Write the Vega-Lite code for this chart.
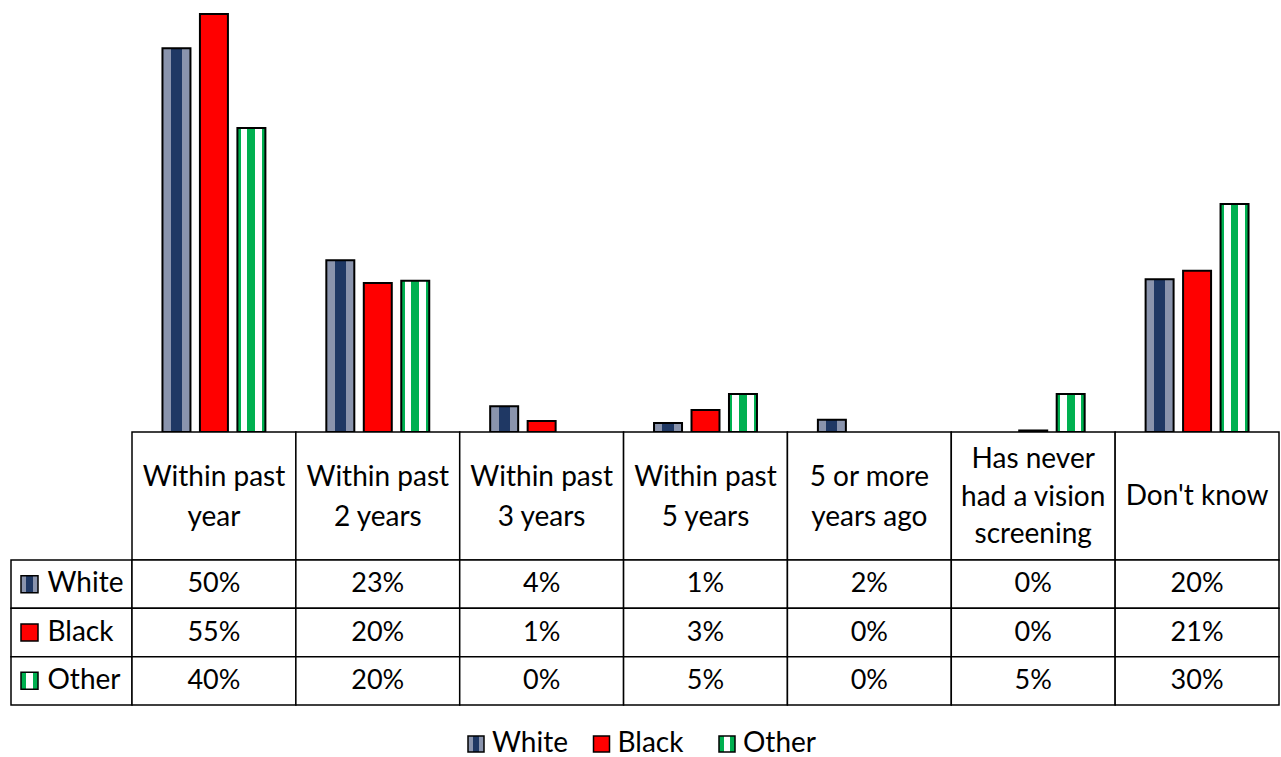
{
  "$schema": "https://vega.github.io/schema/vega-lite/v6.json",
  "padding": {"left": 10, "top": 0, "right": 3, "bottom": 0},
  "background": "white",
  "config": {"view": {"stroke": null}, "font": "Lato"},
  "datasets": {
    "bars": [
      {"cat": "Within past year", "race": "White", "value": 50.5, "label": "50%"},
      {"cat": "Within past year", "race": "Black", "value": 55, "label": "55%"},
      {"cat": "Within past year", "race": "Other", "value": 40, "label": "40%"},
      {"cat": "Within past 2 years", "race": "White", "value": 22.6, "label": "23%"},
      {"cat": "Within past 2 years", "race": "Black", "value": 19.6, "label": "20%"},
      {"cat": "Within past 2 years", "race": "Other", "value": 19.9, "label": "20%"},
      {"cat": "Within past 3 years", "race": "White", "value": 3.4, "label": "4%"},
      {"cat": "Within past 3 years", "race": "Black", "value": 1.45, "label": "1%"},
      {"cat": "Within past 3 years", "race": "Other", "value": 0, "label": "0%"},
      {"cat": "Within past 5 years", "race": "White", "value": 1.2, "label": "1%"},
      {"cat": "Within past 5 years", "race": "Black", "value": 2.9, "label": "3%"},
      {"cat": "Within past 5 years", "race": "Other", "value": 5.0, "label": "5%"},
      {"cat": "5 or more years ago", "race": "White", "value": 1.6, "label": "2%"},
      {"cat": "5 or more years ago", "race": "Black", "value": 0, "label": "0%"},
      {"cat": "5 or more years ago", "race": "Other", "value": 0, "label": "0%"},
      {"cat": "Has never had a vision screening", "race": "White", "value": 0, "label": "0%"},
      {"cat": "Has never had a vision screening", "race": "Black", "value": 0.2, "label": "0%"},
      {"cat": "Has never had a vision screening", "race": "Other", "value": 5.0, "label": "5%"},
      {"cat": "Don't know", "race": "White", "value": 20.1, "label": "20%"},
      {"cat": "Don't know", "race": "Black", "value": 21.2, "label": "21%"},
      {"cat": "Don't know", "race": "Other", "value": 30.0, "label": "30%"}
    ],
    "cats": [
      {"cat": "Within past year", "head": "Within past\nyear"},
      {"cat": "Within past 2 years", "head": "Within past\n2 years"},
      {"cat": "Within past 3 years", "head": "Within past\n3 years"},
      {"cat": "Within past 5 years", "head": "Within past\n5 years"},
      {"cat": "5 or more years ago", "head": "5 or more\nyears ago"},
      {"cat": "Has never had a vision screening", "head": "Has never\nhad a vision\nscreening"},
      {"cat": "Don't know", "head": "Don't know"}
    ],
    "races": [
      {"race": "White"},
      {"race": "Black"},
      {"race": "Other"}
    ]
  },
  "columns": 2,
  "spacing": 0,
  "align": "each",
  "bounds": "flush",
  "resolve": {"scale": {"x": "independent", "y": "independent"}},
  "concat": [
    {
      "width": 121, "height": 432,
      "data": {"values": []},
      "mark": "point"
    },
    {
      "width": 1147, "height": 432,
      "data": {"name": "bars"},
      "transform": [{"filter": "datum.value > 0"}],
      "mark": {"type": "bar", "stroke": "black", "strokeWidth": 2},
      "encoding": {
        "x": {"field": "cat", "type": "nominal", "axis": null,
              "scale": {"domain": ["Within past year", "Within past 2 years", "Within past 3 years", "Within past 5 years", "5 or more years ago", "Has never had a vision screening", "Don't know"], "paddingInner": 0, "paddingOuter": 0}},
        "xOffset": {"field": "race", "type": "nominal",
                    "scale": {"domain": ["White", "Black", "Other"], "paddingInner": 0.253, "paddingOuter": 0.813}},
        "y": {"field": "value", "type": "quantitative", "axis": null,
              "scale": {"domain": [0, 56.84], "nice": false, "zero": true}},
        "fill": {
          "condition": [
            {"test": "datum.race === 'White'", "value": {"gradient": "linear", "x1": 0, "y1": 0, "x2": 1, "y2": 0, "stops": [
                {"offset": 0, "color": "#8a94ad"}, {"offset": 0.3, "color": "#8a94ad"},
                {"offset": 0.3, "color": "#1f3864"}, {"offset": 0.7, "color": "#1f3864"},
                {"offset": 0.7, "color": "#8a94ad"}, {"offset": 1, "color": "#8a94ad"}]}},
            {"test": "datum.race === 'Other'", "value": {"gradient": "linear", "x1": 0, "y1": 0, "x2": 1, "y2": 0, "stops": [
                {"offset": 0, "color": "#00b050"}, {"offset": 0.12, "color": "#00b050"},
                {"offset": 0.12, "color": "#ffffff"}, {"offset": 0.36, "color": "#ffffff"},
                {"offset": 0.36, "color": "#00b050"}, {"offset": 0.64, "color": "#00b050"},
                {"offset": 0.64, "color": "#ffffff"}, {"offset": 0.88, "color": "#ffffff"},
                {"offset": 0.88, "color": "#00b050"}, {"offset": 1, "color": "#00b050"}]}}
          ],
          "value": "#ff0000"
        }
      }
    },
    {
      "width": 121, "height": 128,
      "data": {"values": []},
      "mark": "point"
    },
    {
      "width": 1147, "height": 128,
      "data": {"name": "cats"},
      "encoding": {
        "x": {"field": "cat", "type": "nominal", "sort": null, "axis": null,
              "scale": {"paddingInner": 0, "paddingOuter": 0}}
      },
      "layer": [
        {
          "mark": {"type": "rect", "fill": "white", "stroke": "black", "strokeWidth": 1.5}
        },
        {
          "transform": [{"filter": "length(split(datum.head, '\\n')) === 1"}],
          "mark": {"type": "text", "fontSize": 28, "color": "black", "baseline": "middle", "dy": 1},
          "encoding": {"text": {"field": "head"}}
        },
        {
          "transform": [{"filter": "length(split(datum.head, '\\n')) === 2"}],
          "mark": {"type": "text", "fontSize": 28, "lineBreak": "\n", "lineHeight": 40, "color": "black", "baseline": "middle", "dy": -18},
          "encoding": {"text": {"field": "head"}}
        },
        {
          "transform": [{"filter": "length(split(datum.head, '\\n')) === 3"}],
          "mark": {"type": "text", "fontSize": 28, "lineBreak": "\n", "lineHeight": 37.5, "color": "black", "baseline": "middle", "dy": -36},
          "encoding": {"text": {"field": "head"}}
        }
      ]
    },
    {
      "width": 121, "height": 145,
      "data": {"name": "races"},
      "encoding": {
        "y": {"field": "race", "type": "nominal", "sort": ["White", "Black", "Other"], "axis": null,
              "scale": {"paddingInner": 0, "paddingOuter": 0}}
      },
      "layer": [
        {
          "mark": {"type": "rect", "fill": "white", "stroke": "black", "strokeWidth": 1.5}
        },
        {
          "mark": {"type": "point", "shape": "square", "size": 289, "stroke": "black", "strokeWidth": 1.5, "opacity": 1, "filled": true, "xOffset": -42},
          "encoding": {
            "fill": {
              "condition": [
                {"test": "datum.race === 'White'", "value": {"gradient": "linear", "x1": 0, "y1": 0, "x2": 1, "y2": 0, "stops": [
                  {"offset": 0, "color": "#8a94ad"}, {"offset": 0.3, "color": "#8a94ad"},
                  {"offset": 0.3, "color": "#1f3864"}, {"offset": 0.7, "color": "#1f3864"},
                  {"offset": 0.7, "color": "#8a94ad"}, {"offset": 1, "color": "#8a94ad"}]}},
                {"test": "datum.race === 'Other'", "value": {"gradient": "linear", "x1": 0, "y1": 0, "x2": 1, "y2": 0, "stops": [
                  {"offset": 0, "color": "#00b050"}, {"offset": 0.3, "color": "#00b050"},
                  {"offset": 0.3, "color": "#ffffff"}, {"offset": 0.7, "color": "#ffffff"},
                  {"offset": 0.7, "color": "#00b050"}, {"offset": 1, "color": "#00b050"}]}}
              ],
              "value": "#ff0000"
            }
          }
        },
        {
          "mark": {"type": "text", "fontSize": 28, "align": "left", "baseline": "middle", "color": "black", "xOffset": -24},
          "encoding": {"text": {"field": "race"}}
        }
      ]
    },
    {
      "width": 1147, "height": 145,
      "data": {"name": "bars"},
      "encoding": {
        "x": {"field": "cat", "type": "nominal", "sort": null, "axis": null,
              "scale": {"paddingInner": 0, "paddingOuter": 0}},
        "y": {"field": "race", "type": "nominal", "sort": ["White", "Black", "Other"], "axis": null,
              "scale": {"paddingInner": 0, "paddingOuter": 0}}
      },
      "layer": [
        {
          "mark": {"type": "rect", "fill": "white", "stroke": "black", "strokeWidth": 1.5}
        },
        {
          "mark": {"type": "text", "fontSize": 27, "baseline": "middle", "color": "black"},
          "encoding": {"text": {"field": "label"}}
        }
      ]
    },
    {
      "width": 121, "height": 50,
      "data": {"values": []},
      "mark": "point"
    },
    {
      "width": 1147, "height": 50,
      "data": {"name": "races"},
      "encoding": {
        "x": {"field": "race", "type": "nominal", "axis": null,
              "scale": {"type": "point", "domain": ["White", "Black", "Other"], "range": [344, 595], "padding": 0}}
      },
      "layer": [
        {
          "mark": {"type": "point", "shape": "square", "size": 256, "stroke": "black", "strokeWidth": 1.5, "opacity": 1, "filled": true, "yOffset": 14},
          "encoding": {
            "fill": {
              "condition": [
                {"test": "datum.race === 'White'", "value": {"gradient": "linear", "x1": 0, "y1": 0, "x2": 1, "y2": 0, "stops": [
                  {"offset": 0, "color": "#8a94ad"}, {"offset": 0.3, "color": "#8a94ad"},
                  {"offset": 0.3, "color": "#1f3864"}, {"offset": 0.7, "color": "#1f3864"},
                  {"offset": 0.7, "color": "#8a94ad"}, {"offset": 1, "color": "#8a94ad"}]}},
                {"test": "datum.race === 'Other'", "value": {"gradient": "linear", "x1": 0, "y1": 0, "x2": 1, "y2": 0, "stops": [
                  {"offset": 0, "color": "#00b050"}, {"offset": 0.3, "color": "#00b050"},
                  {"offset": 0.3, "color": "#ffffff"}, {"offset": 0.7, "color": "#ffffff"},
                  {"offset": 0.7, "color": "#00b050"}, {"offset": 1, "color": "#00b050"}]}}
              ],
              "value": "#ff0000"
            }
          }
        },
        {
          "mark": {"type": "text", "fontSize": 28, "align": "left", "baseline": "middle", "color": "black", "dx": 16, "yOffset": 14},
          "encoding": {"text": {"field": "race"}}
        }
      ]
    }
  ]
}
